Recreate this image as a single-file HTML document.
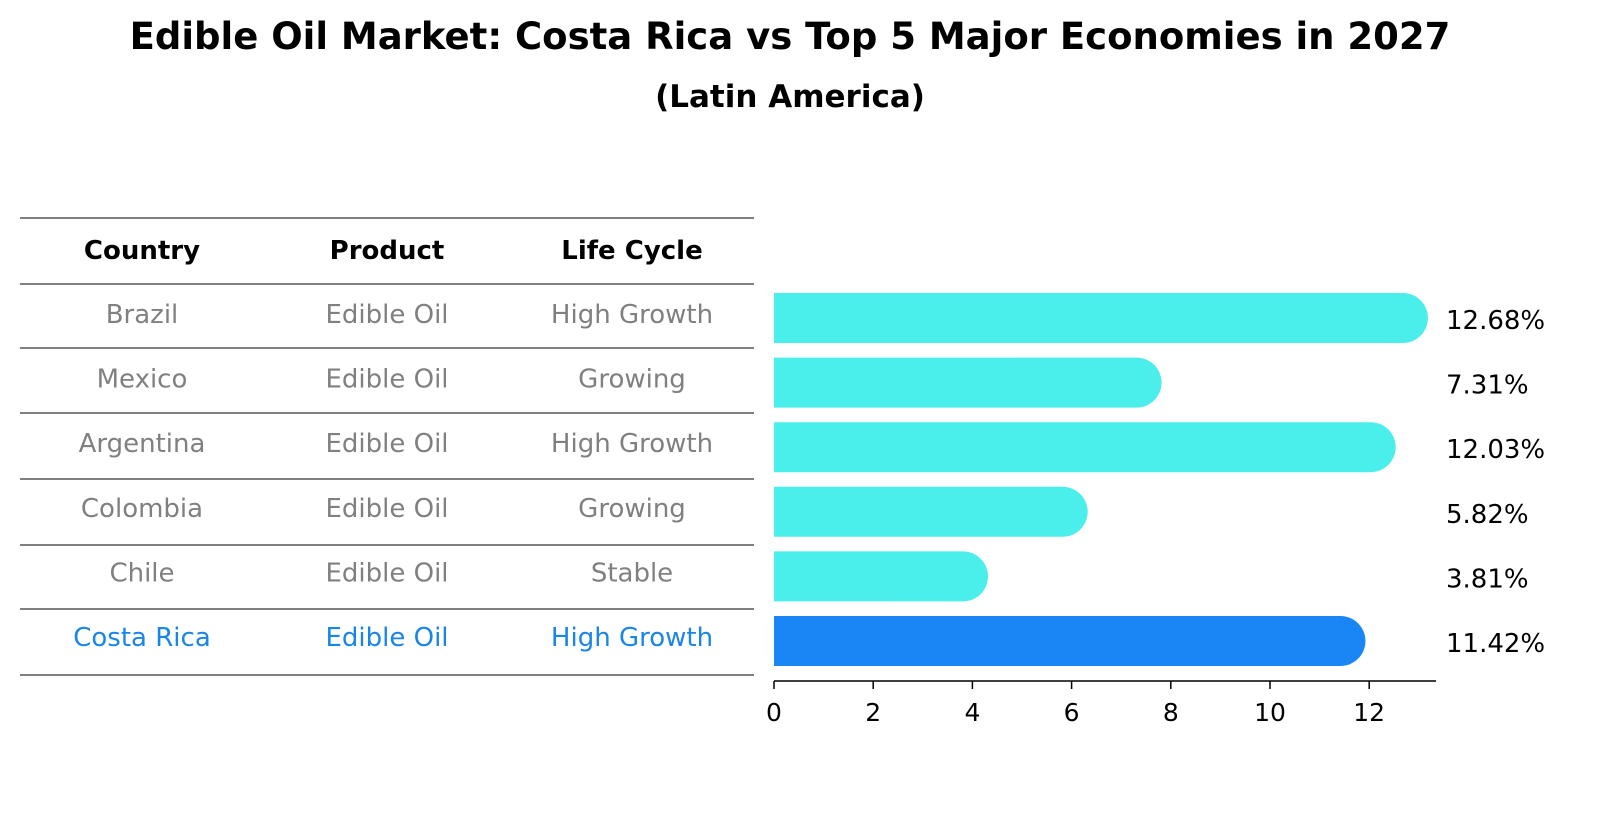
<!DOCTYPE html>
<html><head><meta charset="utf-8"><style>
body{margin:0;background:#fff;font-family:"Liberation Sans","DejaVu Sans",sans-serif}
</style></head><body>
<svg width="1604" height="823" xmlns="http://www.w3.org/2000/svg" font-family="DejaVu Sans, Liberation Sans, sans-serif">
<rect width="1604" height="823" fill="#fff"/>
<text x="790" y="49" text-anchor="middle" font-size="37" font-weight="bold">Edible Oil Market: Costa Rica vs Top 5 Major Economies in 2027</text>
<text x="790" y="107" text-anchor="middle" font-size="31" font-weight="bold">(Latin America)</text>
<g id="table"></g>
<g id="bars"></g>
<g id="axis"></g>
</svg>
<script>
const countries=["Brazil","Mexico","Argentina","Colombia","Chile","Costa Rica"];
const products=["Edible Oil","Edible Oil","Edible Oil","Edible Oil","Edible Oil","Edible Oil"];
const lifeCycles=["High Growth","Growing","High Growth","Growing","Stable","High Growth"];
const values=[12.68,7.31,12.03,5.82,3.81,11.42];
const ticks=[0,2,4,6,8,10,12];
const NS="http://www.w3.org/2000/svg";
function mk(t,a,p){const e=document.createElementNS(NS,t);for(const k in a)e.setAttribute(k,a[k]);p.appendChild(e);return e;}
const x0=774,ppu=49.6;
const xs=v=>x0+v*ppu;
const rowY=i=>318+i*64.2;
const T=document.getElementById('table'),B=document.getElementById('bars'),A=document.getElementById('axis');
const lines=[218,284,348,413,479,545,609,675];
lines.forEach(y=>{const l=mk('line',{x1:20,x2:754,y1:y,y2:y,stroke:'#000','stroke-width':1},T);

});
const cols=[142,387,632];
["Country","Product","Life Cycle"].forEach((h,j)=>{const t=mk('text',{x:cols[j],y:259,'text-anchor':'middle','font-size':26,'font-weight':'bold'},T);t.textContent=h;

});
countries.forEach((c,i)=>{
 const col=i===countries.length-1?'#1a85e8':'#808080';
 const cy=rowY(i)+i*0.4;
 [c,products[i],lifeCycles[i]].forEach((s,j)=>{const t=mk('text',{x:cols[j],y:cy+5,'text-anchor':'middle','font-size':26,fill:col},T);t.textContent=s;
 
 });
 const h=50,r=25,xe=xs(values[i]);
 const p=mk('path',{d:`M${x0},${cy-h/2} H${xe} A${r},${r} 0 0 1 ${xe},${cy+h/2} H${x0} Z`,fill:i===countries.length-1?'#1a85f5':'#4aeeea'},B);
 
 
 const lt=mk('text',{x:1446,y:cy+11,'font-size':26},B);lt.textContent=values[i].toFixed(2)+'%';
 
 
});
const al=mk('line',{x1:x0,x2:1436,y1:681,y2:681,stroke:'#000','stroke-width':1.5},A);


ticks.forEach(v=>{const tl=mk('line',{x1:xs(v),x2:xs(v),y1:681,y2:689,stroke:'#000','stroke-width':1.5},A);


const t=mk('text',{x:xs(v),y:721,'text-anchor':'middle','font-size':25},A);t.textContent=v;

});
</script>
</body></html>
